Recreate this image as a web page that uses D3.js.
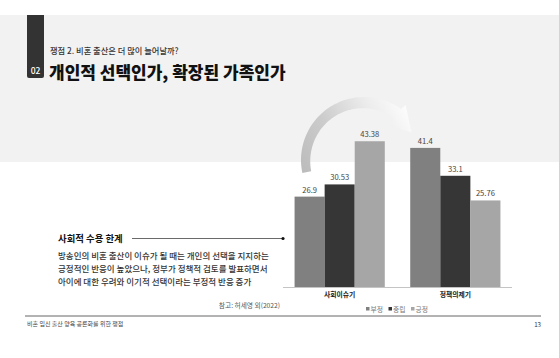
<!DOCTYPE html>
<html><head><meta charset="utf-8">
<script src="https://cdn.jsdelivr.net/npm/d3@7"></script>
<style>
html,body{margin:0;padding:0;background:#fff;}
svg{display:block;font-family:"Noto Sans CJK KR","Noto Sans",sans-serif;}
</style></head>
<body>
<svg id="c" width="559" height="358"></svg>
<script>
const categories = ["사회이슈기", "정책의제기"];
const seriesNames = ["부정", "중립", "긍정"];
const seriesColors = ["#808080", "#363636", "#a6a6a6"];
const negativeValues = [26.9, 41.4];
const neutralValues = [30.53, 33.1];
const positiveValues = [43.38, 25.76];
const valueLabels = [["26.9", "41.4"], ["30.53", "33.1"], ["43.38", "25.76"]];
const seriesValues = [negativeValues, neutralValues, positiveValues];

const bodyLines = [
  "방송인의 비혼 출산이 이슈가 될 때는 개인의 선택을 지지하는",
  "긍정적인 반응이 높았으나,  정부가 정책적 검토를 발표하면서",
  "아이에 대한 우려와 이기적 선택이라는 부정적 반응 증가"
];

const svg = d3.select("#c");

// background band
svg.append("rect").attr("x",0).attr("y",15).attr("width",559).attr("height",147).attr("fill","#f2f2f2");
// number tab
svg.append("path").attr("d","M27,15 H44 V76 Q44,78 42,78 H29 Q27,78 27,76 Z").attr("fill","#333");
svg.append("text").attr("x",35.5).attr("y",73.5).attr("text-anchor","middle").attr("fill","#fff")
  .attr("font-size",8.5).attr("font-weight",500).text("02");
svg.append("text").attr("x",50).attr("y",53.5).attr("fill","#333").attr("font-size",8.25).attr("font-weight",500)
  .text("쟁점 2. 비혼 출산은 더 많이 늘어날까?");
svg.append("text").attr("x",49).attr("y",79).attr("fill","#111").attr("font-size",17).attr("font-weight",900)
  .text("개인적 선택인가, 확장된 가족인가");

// chart
const x = d3.scaleBand().domain(categories).range([283, 512]).paddingInner(0.22).paddingOuter(0.1);
const xs = d3.scaleBand().domain(seriesNames).range([0, x.bandwidth()]);
const y = d3.scaleLinear().domain([0, 50]).range([287, 119]);

// arrow
const cx = 364, cy = 160;
const defs = svg.append("defs");
const grad = defs.append("linearGradient").attr("id","ag").attr("gradientUnits","userSpaceOnUse")
  .attr("x1",305).attr("y1",175).attr("x2",415).attr("y2",110);
grad.append("stop").attr("offset","0").attr("stop-color","#bcbcbc");
grad.append("stop").attr("offset","0.35").attr("stop-color","#cccccc");
grad.append("stop").attr("offset","0.7").attr("stop-color","#ececec");
grad.append("stop").attr("offset","1").attr("stop-color","#ffffff");
function pt(a, r){ const t = a*Math.PI/180; return [cx + r*Math.sin(t), cy - r*Math.cos(t)]; }
const a0 = -102, a1 = 37, rOut = 63;
const outer = [], inner = [];
for (let a = a0; a <= a1; a += 2) {
  const f = (a - a0)/(a1 - a0);
  outer.push(pt(a, rOut));
  inner.push(pt(a, rOut - (9 + 3*f)));
}
const headOut = pt(a1, rOut + 6), headIn = pt(a1, rOut - 20), tip = pt(60, 55);
const arrowPts = outer.concat([headOut, tip, headIn]).concat(inner.reverse());
svg.append("path").attr("d", d3.line()(arrowPts) + "Z").attr("fill","url(#ag)");

// bars
const g = svg.append("g");
seriesNames.forEach((s, si) => {
  categories.forEach((c, ci) => {
    const v = seriesValues[si][ci];
    g.append("rect").attr("x", x(c) + xs(s)).attr("y", y(v))
      .attr("width", xs.bandwidth()).attr("height", y(0) - y(v)).attr("fill", seriesColors[si]);
    g.append("text").attr("x", x(c) + xs(s) + xs.bandwidth()/2).attr("y", y(v) - 4)
      .attr("text-anchor","middle").attr("font-size",7.6).attr("fill","#444").text(valueLabels[si][ci]);
  });
});
// baseline axis
const axis = svg.append("g").attr("transform","translate(0,287)")
  .call(d3.axisBottom(x).tickSize(0).tickPadding(5));
axis.select(".domain").attr("stroke","#c4c4c4").attr("d","M283,0.5H512");
axis.selectAll("text").attr("font-size",6.8).attr("font-weight",700).attr("fill","#222")
  .attr("font-family","Noto Sans CJK KR");

// legend
const legend = svg.append("g").attr("transform","translate(366,309)");
let lx = 0;
seriesNames.forEach((s, i) => {
  legend.append("rect").attr("x", lx).attr("y",-2).attr("width",3.5).attr("height",3.5).attr("fill",seriesColors[i]);
  legend.append("text").attr("x", lx + 4.5).attr("y", 2.6).attr("font-size",6.8).attr("fill","#777").text(s);
  lx += 22.5;
});

// left text
svg.append("text").attr("x",58).attr("y",241.8).attr("font-size",9.4).attr("font-weight",700).attr("fill","#111")
  .text("사회적 수용 한계");
svg.append("line").attr("x1",132).attr("x2",283).attr("y1",238.5).attr("y2",238.5).attr("stroke","#444").attr("stroke-width",0.8);
svg.append("circle").attr("cx",283).attr("cy",238.5).attr("r",1.6).attr("fill","#111");
bodyLines.forEach((l, i) => {
  svg.append("text").attr("x",58).attr("y",259.3 + i*12.8).attr("font-size",8.5).attr("font-weight",500).attr("fill","#333").text(l);
});
svg.append("text").attr("x",280).attr("y",307.5).attr("text-anchor","end").attr("font-size",6.7).attr("fill","#555")
  .text("참고: 허세영 외(2022)");

// bottom rule & footer
svg.append("line").attr("x1",25).attr("x2",541).attr("y1",316).attr("y2",316).attr("stroke","#555").attr("stroke-width",0.9);
svg.append("text").attr("x",27).attr("y",326).attr("font-size",6).attr("fill","#444").text("비혼 임신 출산 양육 공론화를 위한 쟁점");
svg.append("text").attr("x",541).attr("y",326.5).attr("text-anchor","end").attr("font-size",6.2).attr("fill","#333").text("13");
</script>
</body></html>
